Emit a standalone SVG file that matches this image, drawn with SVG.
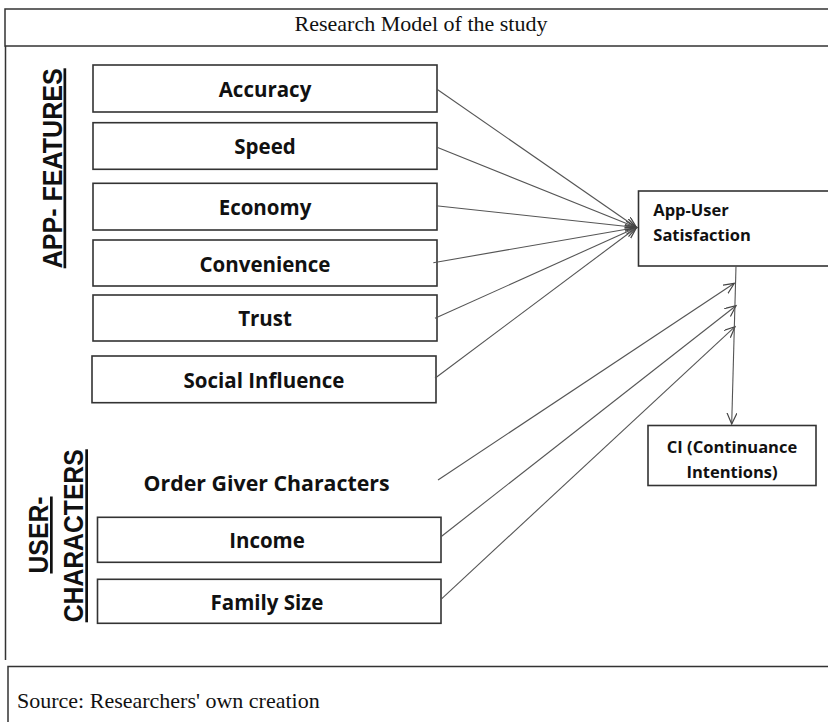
<svg xmlns="http://www.w3.org/2000/svg" width="828" height="722" viewBox="0 0 828 722">
<style>
.frame{fill:none;stroke:#333;stroke-width:1.5}
.box{fill:#fff;stroke:#333;stroke-width:1.6}
.lbl{font-family:"Open Sans","Noto Sans",sans-serif;font-weight:700;font-size:20.5px;fill:#111;text-anchor:middle}
.small{font-family:"Open Sans","Noto Sans",sans-serif;font-weight:700;font-size:16.5px;fill:#111}
.serif{font-family:"Liberation Serif","Times New Roman",serif;font-size:22px;fill:#111}
.rot{font-family:"Liberation Sans",Arial,sans-serif;font-weight:700;font-size:27px;fill:#111;text-anchor:middle;text-decoration:underline}
.con{fill:none;stroke:#555;stroke-width:1.1}
</style>
<defs>
<marker id="arr" markerUnits="userSpaceOnUse" markerWidth="14" markerHeight="12" refX="11" refY="5" orient="auto">
<path d="M0,0 L11,5 L0,10" fill="none" stroke="#444" stroke-width="1.2"/>
</marker>
</defs>
<rect width="828" height="722" fill="#fff"/>
<g id="title">
<rect class="frame" x="5" y="9" width="830" height="37"/>
<text class="serif" x="421" y="30.5" text-anchor="middle">Research Model of the study</text>
</g>
<line class="frame" x1="5.5" y1="46" x2="5.5" y2="660"/>
<g id="source">
<rect class="frame" x="8" y="666.5" width="830" height="70"/>
<text class="serif" x="17" y="708">Source: Researchers' own creation</text>
</g>
<g id="app-features-label">
<text class="rot" transform="translate(61.5,168.3) rotate(-90)" textLength="200" lengthAdjust="spacingAndGlyphs">APP- FEATURES</text>
</g>
<g id="user-characters-label">
<text class="rot" transform="translate(48,535) rotate(-90)" textLength="77" lengthAdjust="spacingAndGlyphs">USER-</text>
<text class="rot" transform="translate(83.3,535.8) rotate(-90)" textLength="173" lengthAdjust="spacingAndGlyphs">CHARACTERS</text>
</g>
<g id="accuracy"><rect class="box" x="93" y="65" width="344" height="47"/><text class="lbl" x="265" y="96.5">Accuracy</text></g>
<g id="speed"><rect class="box" x="93" y="122.7" width="344" height="46.6"/><text class="lbl" x="265" y="154">Speed</text></g>
<g id="economy"><rect class="box" x="93" y="183.3" width="344" height="46.7"/><text class="lbl" x="265" y="215">Economy</text></g>
<g id="convenience"><rect class="box" x="93" y="240" width="344" height="46"/><text class="lbl" x="265" y="271.5">Convenience</text></g>
<g id="trust"><rect class="box" x="93" y="295" width="344" height="46"/><text class="lbl" x="265" y="326">Trust</text></g>
<g id="social-influence"><rect class="box" x="92" y="356" width="344" height="46.7"/><text class="lbl" x="264" y="387.5">Social Influence</text></g>
<g id="order-giver"><text class="lbl" x="266.6" y="490.7" textLength="246" lengthAdjust="spacingAndGlyphs">Order Giver Characters</text></g>
<g id="income"><rect class="box" x="97.5" y="517.3" width="343.5" height="45"/><text class="lbl" x="267" y="548.3">Income</text></g>
<g id="family-size"><rect class="box" x="97.5" y="579.3" width="343.5" height="44"/><text class="lbl" x="267" y="610">Family Size</text></g>
<g id="satisfaction"><rect class="box" x="638.5" y="191" width="200" height="75"/>
<text class="small" x="653.3" y="216">App-User</text><text class="small" x="653.3" y="241">Satisfaction</text></g>
<g id="ci"><rect class="box" x="648" y="425.5" width="168" height="60"/>
<text class="small" x="732" y="453.3" text-anchor="middle">CI (Continuance</text><text class="small" x="732" y="478.3" text-anchor="middle">Intentions)</text></g>
<g id="connectors">
<line class="con" x1="437" y1="89.3" x2="636.5" y2="227.5" marker-end="url(#arr)"/>
<line class="con" x1="437" y1="147.3" x2="636.5" y2="227.5" marker-end="url(#arr)"/>
<line class="con" x1="436" y1="205.7" x2="636.5" y2="227.5" marker-end="url(#arr)"/>
<line class="con" x1="433.3" y1="262.7" x2="636.5" y2="227.5" marker-end="url(#arr)"/>
<line class="con" x1="435" y1="318.3" x2="636.5" y2="227.5" marker-end="url(#arr)"/>
<line class="con" x1="435" y1="378.3" x2="636.5" y2="227.5" marker-end="url(#arr)"/>
<line class="con" x1="438" y1="480" x2="734.3" y2="283.3" marker-end="url(#arr)"/>
<line class="con" x1="441" y1="536.7" x2="736" y2="305.7" marker-end="url(#arr)"/>
<line class="con" x1="441" y1="599.3" x2="735" y2="326.7" marker-end="url(#arr)"/>
<line class="con" x1="736" y1="266" x2="731.7" y2="424" marker-end="url(#arr)"/>
</g>
</svg>
